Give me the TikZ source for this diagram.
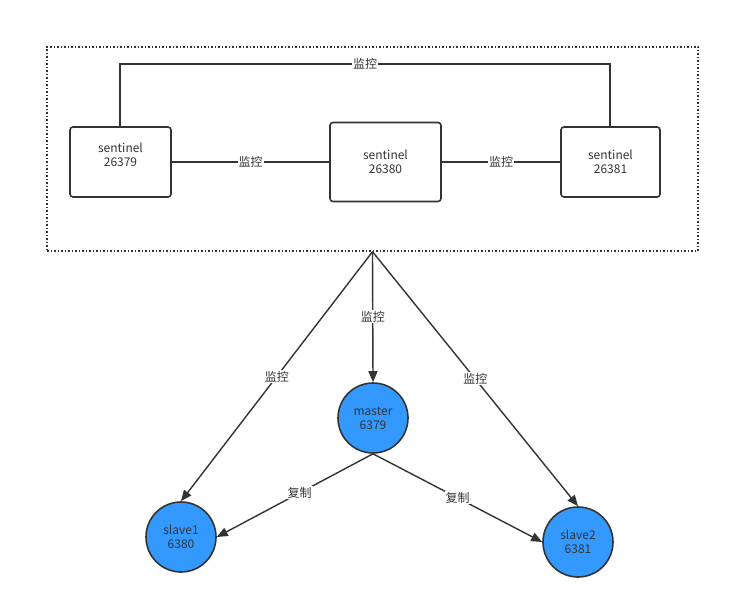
\documentclass[tikz,border=0pt]{standalone}
\usepackage{fontspec}
\setmainfont{Noto Sans CJK SC}
\usetikzlibrary{arrows.meta}
\definecolor{ink}{HTML}{333333}
\definecolor{blu}{HTML}{3399FF}
\begin{document}
\begin{tikzpicture}[x=1pt,y=-1pt,
  every node/.style={font=\fontsize{12}{15}\selectfont, text=ink},
  sbox/.style={draw=ink, line width=1.6pt, rounded corners=3pt, align=center, inner sep=0pt},
  circ/.style={circle, draw=ink, line width=1.6pt, fill=blu, minimum size=70pt, inner sep=0pt, align=center},
  lbl/.style={fill=white, inner sep=1pt},
  conn/.style={draw=ink, line width=1.4pt},
  arr/.style={conn, -{Triangle[length=11pt,width=9pt]}}]
\useasboundingbox (0,0) rectangle (730,609);
\node[draw=ink, line width=1.4pt, dash pattern=on 1.5pt off 2pt, minimum width=651pt, minimum height=204pt, inner sep=0pt] (group) at (372.5,149) {};
\node[sbox, minimum width=101pt, minimum height=70pt] (s1) at (120.5,162) {};
\node[align=center] (s1t) at (120.5,155) {sentinel\\[-1pt]26379};
\node[sbox, minimum width=111pt, minimum height=79pt] (s2) at (385.5,162) {sentinel\\[-1pt]26380};
\node[sbox, minimum width=99pt, minimum height=70pt] (s3) at (610.5,162) {sentinel\\[-1pt]26381};
\node[circ] (m) at (373,418) {master\\[-1pt]6379};
\node[circ] (sl1) at (181,537) {slave1\\[-1pt]6380};
\node[circ] (sl2) at (578,542) {slave2\\[-1pt]6381};
\coordinate (tl) at (120,64);
\coordinate (tr) at (610,64);
\draw[conn] (s1.north -| tl) -- (tl) -- node[lbl, pos=0.5] {监控} (tr) -- (s3.north -| tr);
\draw[conn] (s1.east) -- node[lbl] {监控} (s2.west);
\draw[conn] (s2.east) -- node[lbl] {监控} (s3.west);
\draw[arr] (group.south) -- node[lbl, pos=0.5] {监控} (m.north);
\draw[arr] (group.south) -- node[lbl, pos=0.5] {监控} (sl1.north);
\draw[arr] (group.south) -- node[lbl, pos=0.5] {监控} (sl2.north);
\draw[arr] (m.south) -- node[lbl, pos=0.47] {复制} (sl1.east);
\draw[arr] (m.south) -- node[lbl, pos=0.5] {复制} (sl2.west);
\end{tikzpicture}
\end{document}
